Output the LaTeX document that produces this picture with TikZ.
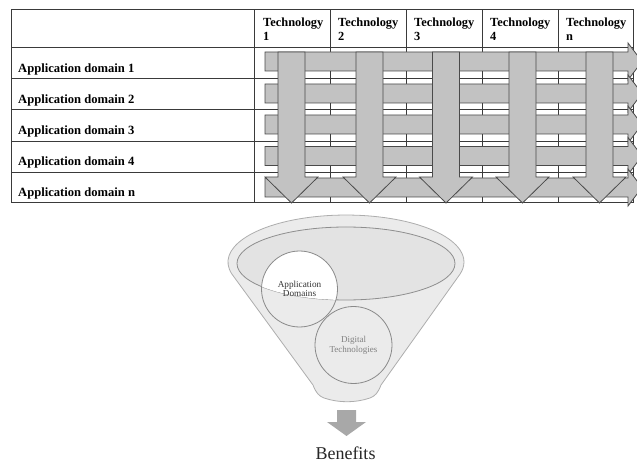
\documentclass[tikz,border=0pt]{standalone}
\usepackage{fontspec}
\setmainfont{Liberation Serif}
\definecolor{tblline}{HTML}{3A3A3A}
\definecolor{arrfill}{HTML}{C2C2C2}
\definecolor{arrdraw}{HTML}{4A4A4A}
\definecolor{funfill}{HTML}{EBEBEB}
\definecolor{fundraw}{HTML}{ADADAD}
\definecolor{innerfill}{HTML}{E3E3E3}
\definecolor{innerdraw}{HTML}{8E8E8E}
\definecolor{circdraw}{HTML}{8A8A8A}
\definecolor{downfill}{HTML}{A8A8A8}
\begin{document}
\begin{tikzpicture}[x=1pt,y=-1pt,
  tbl/.style={draw=tblline, line width=1pt},
  blockarrow/.style={fill=arrfill, draw=arrdraw, line width=0.8pt, line join=miter},
  hdr/.style={font=\bfseries\fontsize{12.4}{14.5}\selectfont, anchor=north west, inner sep=0pt, align=left},
  dom/.style={font=\bfseries\fontsize{12.6}{15}\selectfont, anchor=base west, inner sep=0pt},
  funnel/.style={fill=funfill, draw=fundraw, line width=0.8pt},
  innerell/.style={fill=innerfill, draw=innerdraw, line width=0.8pt},
  bubble/.style={circle, draw=circdraw, line width=0.8pt, inner sep=0pt, align=center, font=\fontsize{9.2}{9.6}\selectfont}
]
\clip (0,0) rectangle (637,462);
% ---------- table ----------
\draw[tbl] (11,10) rectangle (633,203);
\foreach \xx in {254,330,406,482,558} \draw[tbl] (\xx,10) -- (\xx,203);
\foreach \yy in {48,79,110,142,173} \draw[tbl] (11,\yy) -- (633,\yy);
\node[hdr] (t1) at (263,17.3) {Technology\\1};
\node[hdr] (t2) at (338,17.3) {Technology\\2};
\node[hdr] (t3) at (414,17.3) {Technology\\3};
\node[hdr] (t4) at (490,17.3) {Technology\\4};
\node[hdr] (tn) at (566,17.3) {Technology\\n};
\node[dom] (d1) at (18,73) {Application domain 1};
\node[dom] (d2) at (18,104) {Application domain 2};
\node[dom] (d3) at (18,134.5) {Application domain 3};
\node[dom] (d4) at (18,166) {Application domain 4};
\node[dom] (dn) at (18,196.5) {Application domain n};
% ---------- horizontal block arrows ----------
\foreach \cy in {61.5,93.5,124.5,156,187.5}
  \draw[blockarrow] (265,\cy-9.5) -- (628,\cy-9.5) -- (628,\cy-18.5) -- (642,\cy)
     -- (628,\cy+18.5) -- (628,\cy+9.5) -- (265,\cy+9.5) -- cycle;
% ---------- vertical block arrows ----------
\foreach \cx in {291.5,369.5,446,522.5,599.5}
  \draw[blockarrow] (\cx-13.5,52) -- (\cx+13.5,52) -- (\cx+13.5,177) -- (\cx+26.5,177)
     -- (\cx,203) -- (\cx-26.5,177) -- (\cx-13.5,177) -- cycle;
% ---------- funnel ----------
\draw[funnel] (313,385) -- (232,274.2)
   arc[start angle=165, end angle=375, x radius=118, y radius=47]
   -- (381,385) .. controls (378,393) and (375,396) .. (370,398)
   .. controls (355,403) and (339,403) .. (324,398)
   .. controls (319,396) and (316,393) .. cycle;
\draw[innerell] (346,263.5) ellipse [x radius=109, y radius=36.5];
\begin{scope}
  \clip (346,263.5) ellipse [x radius=109, y radius=36.5];
  \fill[white] (299.5,289) circle [radius=38];
\end{scope}
\node[bubble, minimum size=76pt, text=black!80] (ad) at (299.5,289) {Application\\Domains};
\node[bubble, minimum size=77pt, fill=funfill, text=black!50, font=\fontsize{9}{10}\selectfont] (dt) at (353.5,345) {Digital\\Technologies};
% ---------- output arrow ----------
\fill[downfill] (337,410) -- (356,410) -- (356,422) -- (366,422) -- (346.5,436)
   -- (327,422) -- (337,422) -- cycle;
\node[font=\fontsize{18}{20}\selectfont, anchor=base, inner sep=0pt, text=black!85] (ben) at (345.5,459) {Benefits};
\end{tikzpicture}
\end{document}
